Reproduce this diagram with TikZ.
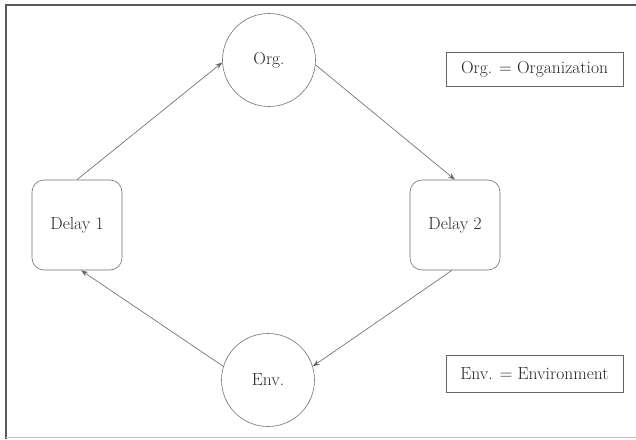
\documentclass[tikz,border=0pt]{standalone}
\usetikzlibrary{arrows.meta}
\begin{document}
\begin{tikzpicture}[x=1pt,y=-1pt,
  txt/.style={font=\fontsize{17.5}{21}\selectfont, text=black!85},
  circ/.style={txt, draw=black!55, line width=0.6pt, circle, minimum size=93pt, inner sep=0pt},
  delaybox/.style={txt, draw=black!55, line width=0.6pt, rounded corners=12pt, minimum width=90pt, minimum height=90pt, inner sep=0pt},
  legend/.style={txt, draw=black!60, line width=0.6pt, minimum width=177pt, inner sep=0pt},
  conn/.style={draw=black!60, line width=0.6pt, -{Stealth[length=7pt,width=5pt]}}
]
\useasboundingbox (0,0) rectangle (636,439);
\fill[white] (0,0) rectangle (636,439);
% frame
\draw[black!65, line width=1.6pt] (6,439) -- (6,5) -- (636,5);
\draw[black!25, line width=0.8pt] (6,437) -- (636,437);

\node[circ] (org) at (269,60) {Org.};
\node[circ] (env) at (268,380) {Env.};
\node[delaybox] (d1) at (77,225) {Delay 1};
\node[delaybox] (d2) at (455,225) {Delay 2};

\node[legend, minimum height=34pt] (lorg) at (534.5,69) {Org. = Organization};
\node[legend, minimum height=37pt] (lenv) at (534.5,373.5) {Env. = Environment};

\draw[conn] (d1.north) -- (org.183);
\draw[conn] (org.-6) -- (d2.north);
\draw[conn] ([xshift=-3pt]d2.south) -- (env.17);
\draw[conn] (env.163) -- ([xshift=4pt]d1.south);
\end{tikzpicture}
\end{document}
